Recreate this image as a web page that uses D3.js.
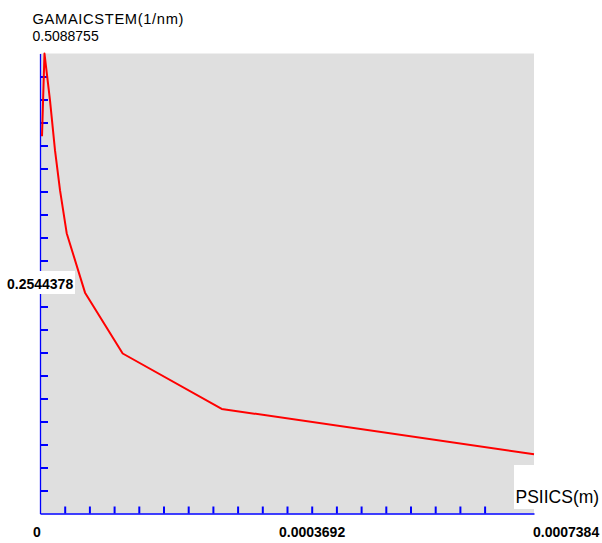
<!DOCTYPE html>
<html><head><meta charset="utf-8">
<script src="https://cdn.jsdelivr.net/npm/d3@7"></script>
<style>body{margin:0;background:#fff;} svg{display:block;}</style>
</head><body>
<svg id="c" width="602" height="543"></svg>
<script>
const xValues = [0.0000030, 0.0000067, 0.0000149, 0.0000224, 0.0000299, 0.0000399, 0.0000673, 0.0001236, 0.0002716, 0.0007384];
const yValues = [0.4174, 0.5088, 0.4572, 0.4019, 0.3577, 0.3101, 0.2443, 0.1770, 0.1157, 0.0656];
const xMax = 0.0007384, yMax = 0.5088755;
const xTickLabels = ["0", "0.0003692", "0.0007384"];
const yTickLabels = ["0.2544378", "0.5088755"];
const xTitle = "PSIICS(m)", yTitle = "GAMAICSTEM(1/nm)";
const xTickCount = 20, yTickCount = 20;

const svg = d3.select("#c");
const L = 40, R = 534, T = 53.5, B = 513.5;
const x = d3.scaleLinear().domain([0, xMax]).range([L, R]);
const y = d3.scaleLinear().domain([0, yMax]).range([B, T]);

svg.append("rect").attr("x", L).attr("y", T).attr("width", R - L).attr("height", B - T).attr("fill", "#dfdfdf");

const xt = d3.range(1, xTickCount - 1).map(i => xMax * i / xTickCount);
const yt = d3.range(1, yTickCount).map(i => yMax * i / yTickCount);

const gx = svg.append("g").attr("transform", `translate(0,${B})`)
  .call(d3.axisBottom(x).tickValues(xt).tickSize(-7).tickSizeOuter(0).tickFormat(""));
const gy = svg.append("g").attr("transform", `translate(${L},0)`)
  .call(d3.axisLeft(y).tickValues(yt).tickSize(-8).tickSizeOuter(0).tickFormat(""));
[gx, gy].forEach(g => {
  g.select(".domain").attr("stroke", "#0000ff").attr("stroke-width", 1.3);
  g.selectAll(".tick line").attr("stroke", "#0000ff").attr("stroke-width", 2);
});

const pts = xValues.map((v, i) => [v, yValues[i]]);
svg.append("path").datum(pts)
  .attr("fill", "none").attr("stroke", "#ff0000").attr("stroke-width", 2)
  .attr("stroke-linejoin", "round")
  .attr("d", d3.line().x(d => x(d[0])).y(d => y(d[1])));

// Y mid label with white box
svg.append("rect").attr("x", 2).attr("y", 271).attr("width", 73).attr("height", 23).attr("fill", "#fff");
svg.append("text").attr("x", 7).attr("y", 288.5).attr("font-family", "Liberation Sans, Arial, sans-serif")
  .attr("font-size", 14).attr("font-weight", "bold").attr("fill", "#000").text(yTickLabels[0]);

// top labels
svg.append("text").attr("x", 32.5).attr("y", 23.5).attr("font-family", "Liberation Sans, Arial, sans-serif")
  .attr("font-size", 14.7).attr("letter-spacing", 0.65).attr("fill", "#000").text(yTitle);
svg.append("text").attr("x", 32.5).attr("y", 41).attr("font-family", "Liberation Sans, Arial, sans-serif")
  .attr("font-size", 14).attr("fill", "#000").text(yTickLabels[1]);

// x labels
const xLabelPos = [33, 279, 533];
xTickLabels.forEach((t, i) => {
  svg.append("text").attr("x", xLabelPos[i]).attr("y", 537).attr("font-family", "Liberation Sans, Arial, sans-serif")
    .attr("font-size", 14).attr("font-weight", "bold").attr("fill", "#000").text(t);
});

// x title with white box
svg.append("rect").attr("x", 514).attr("y", 465).attr("width", 88).attr("height", 44).attr("fill", "#fff");
svg.append("text").attr("x", 515.5).attr("y", 503).attr("font-family", "Liberation Sans, Arial, sans-serif")
  .attr("font-size", 17.5).attr("fill", "#000").text(xTitle);
</script>
</body></html>
